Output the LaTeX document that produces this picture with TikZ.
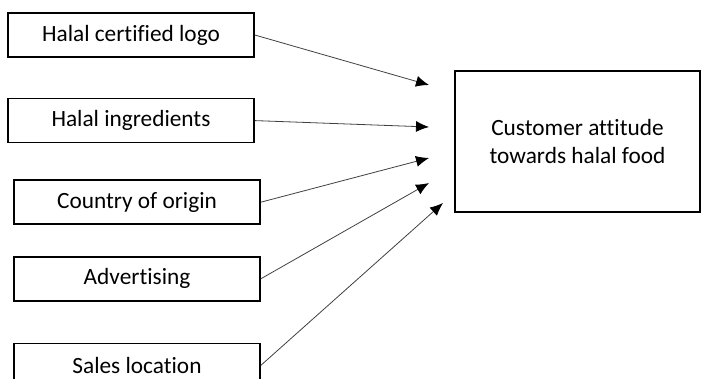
\documentclass[tikz,border=0pt]{standalone}
\usepackage{fontspec}
\setmainfont{Carlito}[Ligatures=NoCommon]
\usetikzlibrary{arrows.meta,positioning}

\begin{document}
\begin{tikzpicture}[x=1pt,y=1pt,->,>={Latex[length=13pt,width=11pt,color=black]},
                    line width=0.8pt,
                    factor node/.style={rectangle,draw,line width=1.6pt,minimum width=246pt,minimum height=44pt,inner sep=0pt,font=\fontsize{23.3}{28.4}\selectfont},
                    outcome node/.style={factor node,minimum width=245pt,minimum height=141pt,align=center}]

  \clip (0,0) rectangle (702,-379);

  \node[factor node] (1) at (131,-35) {Halal certified logo};
  \node[factor node] (2) [below=40pt of 1] {Halal ingredients};
  \node[factor node] (3) [below=36pt of 2, xshift=6pt] {Country of origin};
  \node[factor node] (4) [below=31pt of 3] {Advertising};
  \node[factor node] (5) [below=41pt of 4] {Sales location};

  \node[outcome node] (6) at (577.5,-141.5) {Customer attitude\\towards halal food};

  % free arrow tips in front of the outcome box
  \coordinate (t1) at (429,-85);
  \coordinate (t2) at (429,-127);
  \coordinate (t3) at (429,-158);
  \coordinate (t4) at (429,-183);
  \coordinate (t5) at (443,-203);

  \path[every edge/.append style={draw=black!75}]
    (1.east) edge (t1)
    (2.east) edge (t2)
    (3.east) edge (t3)
    (4.east) edge (t4)
    (5.east) edge (t5);
\end{tikzpicture}
\end{document}
